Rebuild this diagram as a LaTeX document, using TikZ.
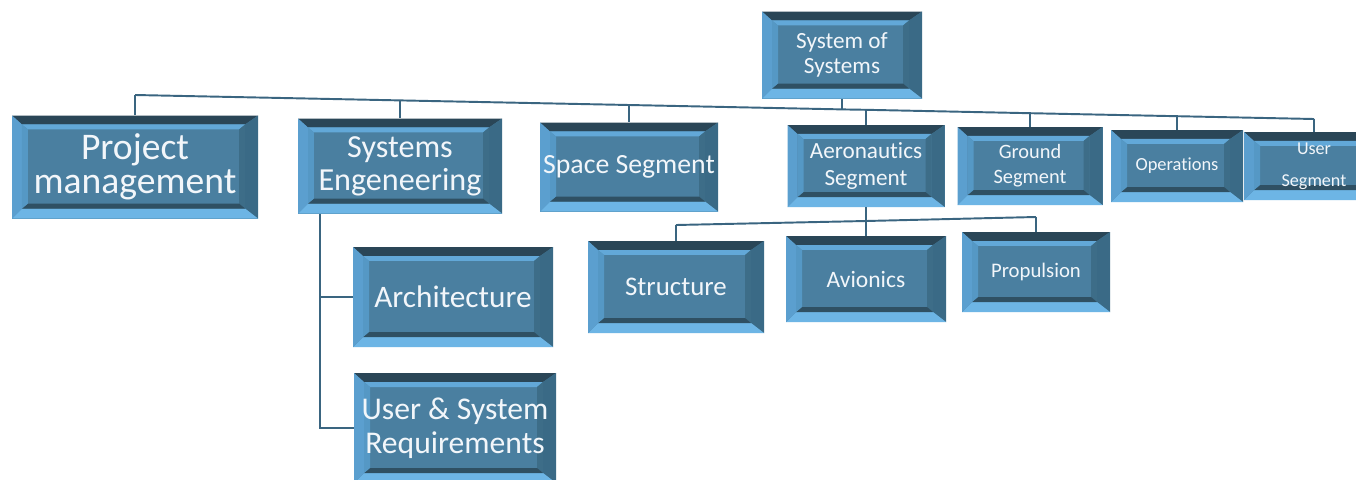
\documentclass[tikz,border=0pt]{standalone}
\usepackage{fontspec}
\setmainfont{Carlito}[Ligatures={NoCommon}]
\usetikzlibrary{calc}
\definecolor{face}{HTML}{4A7FA0}
\definecolor{otop}{HTML}{2A4657}
\definecolor{oright}{HTML}{3A6A86}
\definecolor{obot}{HTML}{6DB5E5}
\definecolor{oleft}{HTML}{5B9FCF}
\definecolor{itop}{HTML}{62A8D8}
\definecolor{ileft}{HTML}{5598C5}
\definecolor{ibot}{HTML}{2F5063}
\definecolor{iright}{HTML}{3D6D88}
\definecolor{txt}{HTML}{F2F6FA}
\definecolor{linec}{HTML}{3A6580}
\newcommand\bevelpic{%
  \path (path picture bounding box.south west) coordinate (bvA)
        (path picture bounding box.north east) coordinate (bvB);
  \coordinate (bvTL) at (bvA|-bvB);
  \coordinate (bvTR) at (bvB);
  \coordinate (bvBR) at (bvB|-bvA);
  \coordinate (bvBL) at (bvA);
  \coordinate (bvTLa) at ($(bvTL)+(0.2cm,-0.18cm)$);
  \coordinate (bvTRa) at ($(bvTR)+(-0.26cm,-0.18cm)$);
  \coordinate (bvBRa) at ($(bvBR)+(-0.26cm,0.2cm)$);
  \coordinate (bvBLa) at ($(bvBL)+(0.2cm,0.2cm)$);
  \coordinate (bvTLb) at ($(bvTLa)+(0.12cm,-0.1cm)$);
  \coordinate (bvTRb) at ($(bvTRa)+(-0.12cm,-0.1cm)$);
  \coordinate (bvBRb) at ($(bvBRa)+(-0.12cm,0.1cm)$);
  \coordinate (bvBLb) at ($(bvBLa)+(0.12cm,0.1cm)$);
  \fill[otop] (bvTL) -- (bvTR) -- (bvTRa) -- (bvTLa) -- cycle;
  \fill[oright] (bvTR) -- (bvBR) -- (bvBRa) -- (bvTRa) -- cycle;
  \fill[obot] (bvBR) -- (bvBL) -- (bvBLa) -- (bvBRa) -- cycle;
  \fill[oleft] (bvBL) -- (bvTL) -- (bvTLa) -- (bvBLa) -- cycle;
  \fill[itop] (bvTLa) -- (bvTRa) -- (bvTRb) -- (bvTLb) -- cycle;
  \fill[iright] (bvTRa) -- (bvBRa) -- (bvBRb) -- (bvTRb) -- cycle;
  \fill[ibot] (bvBRa) -- (bvBLa) -- (bvBLb) -- (bvBRb) -- cycle;
  \fill[ileft] (bvBLa) -- (bvTLa) -- (bvTLb) -- (bvBLb) -- cycle;
}
\tikzset{
  bx/.style 2 args={rectangle, inner sep=0pt, minimum width=#1*0.02cm,
    minimum height=#2*0.02cm, fill=face, text=txt, align=center,
    path picture={\bevelpic}},
  fs/.style 2 args={font={\fontsize{#1}{#2}\selectfont}},
  conn/.style={draw=linec, line width=1.1pt}
}
\begin{document}
\begin{tikzpicture}[x=0.02cm, y=-0.02cm]
\useasboundingbox (0,0) rectangle (1356,480);
\fill[white] (0,0) rectangle (1356,480);
\clip (0,0) rectangle (1356,480);

% bus coordinates
\coordinate (jpm) at (135,95);
\coordinate (jse) at (400,100.4);
\coordinate (jss) at (629,105);
\coordinate (jsos) at (842,109.4);
\coordinate (jas) at (866,109.8);
\coordinate (jgs) at (1030,113.2);
\coordinate (jop) at (1177,116.2);
\coordinate (jus) at (1314,119);
\coordinate (kst) at (676,225);
\coordinate (kav) at (866,221);
\coordinate (kpr) at (1036,217);

% connectors (drawn first, behind boxes)
\draw[conn] (jpm) -- (jse) -- (jss) -- (jsos) -- (jas) -- (jgs) -- (jop) -- (jus);
\draw[conn] (kst) -- (kav) -- (kpr);

% nodes
\node[bx={160}{87}, fs={13.2}{14.2}] (sos) at (842,55) {System of\\Systems};
\node[bx={246}{103}, fs={21.4}{19.4}] (pm) at (135,167) {Project\\management};
\node[bx={204}{95}, fs={18.3}{18.8}] (se) at (400,166) {Systems\\Engeneering};
\node[bx={178}{89}, fs={15.8}{17}] (ss) at (629,167) {Space Segment};
\node[bx={157}{82}, fs={13.2}{15.4}] (as) at (866,166) {Aeronautics\\Segment};
\node[bx={145}{78}, fs={11.6}{14.2}] (gs) at (1030,166) {Ground\\Segment};
\node[bx={132}{72}, fs={10.5}{12}] (op) at (1177,166) {Operations};
\node[bx={140}{68}, fs={10.3}{18}] (us) at (1314,166) {User\\Segment};
\node[bx={200}{100}, fs={17.8}{19}] (ar) at (453,297) {Architecture};
\node[bx={202}{110}, fs={18}{19.4}] (ur) at (455,428) {User \& System\\Requirements};
\node[bx={176}{92}, fs={15.3}{17}] (st) at (676,287) {Structure};
\node[bx={160}{86}, fs={13.4}{15}] (av) at (866,279) {Avionics};
\node[bx={148}{80}, fs={11.8}{14}] (pr) at (1036,272) {Propulsion};

% drops
\draw[conn] (sos.south) -- (jsos);
\draw[conn] (jpm) -- (pm.north);
\draw[conn] (jse) -- (se.north);
\draw[conn] (jss) -- (ss.north);
\draw[conn] (jas) -- (as.north);
\draw[conn] (jgs) -- (gs.north);
\draw[conn] (jop) -- (op.north);
\draw[conn] (jus) -- (us.north);
\draw[conn] (as.south) -- (kav);
\draw[conn] (kav) -- (av.north);
\draw[conn] (kst) -- (st.north);
\draw[conn] (kpr) -- (pr.north);

\coordinate (k0) at ($(se.south west)+(22,0)$);
\coordinate (k1) at (k0 |- ar.west);
\coordinate (k2) at (k0 |- ur.west);
\draw[conn] (k0) -- (k2) -- (ur.west);
\draw[conn] (k1) -- (ar.west);
\end{tikzpicture}
\end{document}
